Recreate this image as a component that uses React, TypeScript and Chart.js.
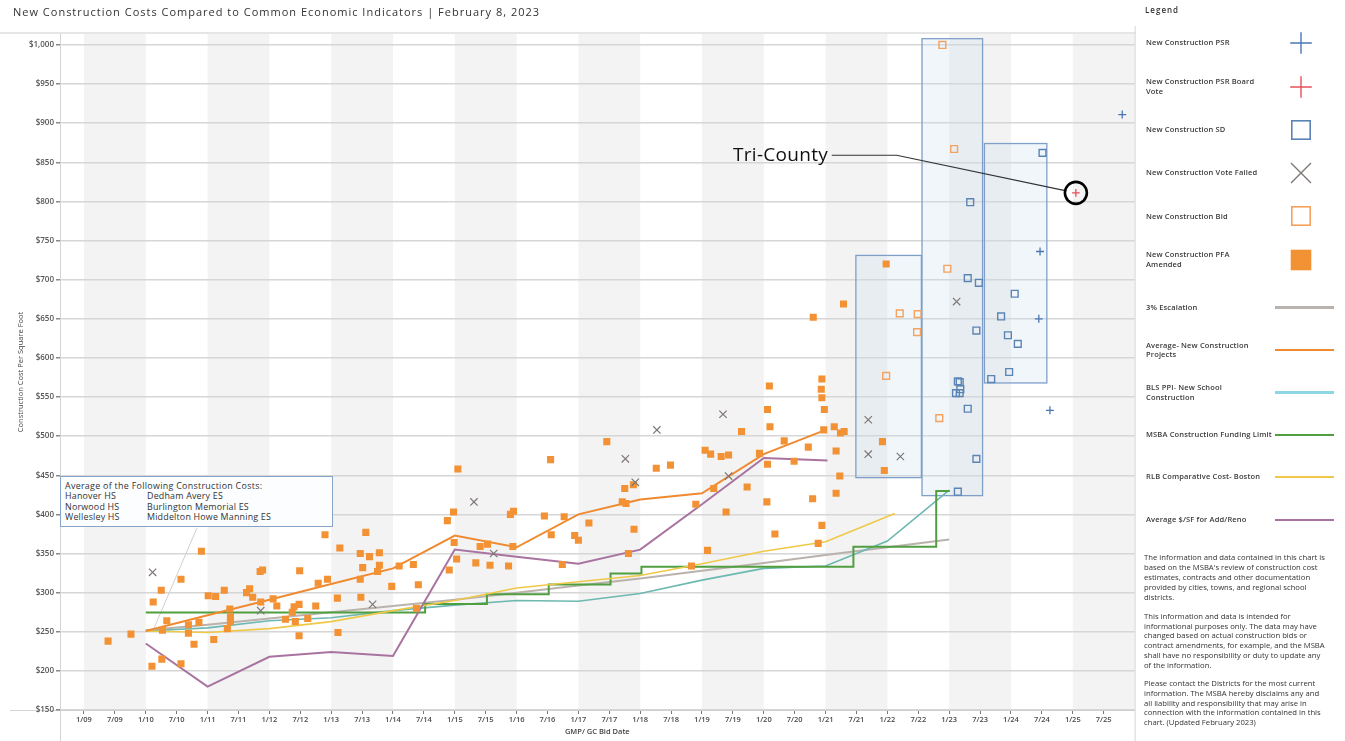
import React, { useEffect, useRef } from "react";
import { Chart, registerables } from "chart.js";

Chart.register(...registerables);

const FONT = "'Open Sans', 'Noto Sans', sans-serif";

// ---------- axis / tick data ----------
const xTickYears = [
  2009, 2009.5, 2010, 2010.5, 2011, 2011.5, 2012, 2012.5, 2013, 2013.5, 2014, 2014.5,
  2015, 2015.5, 2016, 2016.5, 2017, 2017.5, 2018, 2018.5, 2019, 2019.5, 2020, 2020.5,
  2021, 2021.5, 2022, 2022.5, 2023, 2023.5, 2024, 2024.5, 2025, 2025.5,
];
const xTickLabels = [
  "1/09", "7/09", "1/10", "7/10", "1/11", "7/11", "1/12", "7/12", "1/13", "7/13", "1/14", "7/14",
  "1/15", "7/15", "1/16", "7/16", "1/17", "7/17", "1/18", "7/18", "1/19", "7/19", "1/20", "7/20",
  "1/21", "7/21", "1/22", "7/22", "1/23", "7/23", "1/24", "7/24", "1/25", "7/25",
];
const yTickValues = [150, 200, 250, 300, 350, 400, 450, 500, 550, 600, 650, 700, 750, 800, 850, 900, 950, 1000];
const bandStartYears = [2009, 2011, 2013, 2015, 2017, 2019, 2021, 2023, 2025];

const X_MIN = 2008.612;
const X_MAX = 2026;
const Y_MIN = 150;
const Y_MAX = 1014;

type P = [number, number];

// ---------- scatter series ----------
const pfaAmended: P[] = [
  [2009.39, 238], [2009.76, 247], [2010.1, 206], [2010.26, 215], [2010.27, 252], [2010.12, 288],
  [2010.25, 303], [2010.34, 264], [2010.57, 317], [2010.57, 209], [2010.69, 259], [2010.69, 248],
  [2010.78, 234], [2010.9, 353], [2010.86, 262], [2011.01, 296], [2011.13, 295], [2011.1, 240],
  [2011.27, 303], [2011.36, 279], [2011.37, 269], [2011.37, 263], [2011.32, 254], [2011.63, 300],
  [2011.68, 305], [2011.73, 294], [2011.85, 327], [2011.89, 329], [2011.86, 288], [2012.06, 292],
  [2012.12, 283], [2012.26, 266], [2012.37, 275], [2012.4, 282], [2012.42, 263], [2012.48, 285],
  [2012.48, 245], [2012.49, 328], [2012.62, 267], [2012.75, 283], [2012.79, 312], [2012.9, 374],
  [2012.94, 317], [2013.1, 293], [2013.11, 249], [2013.14, 357], [2013.47, 350], [2013.47, 317],
  [2013.48, 294], [2013.51, 332], [2013.56, 377], [2013.62, 346], [2013.75, 327], [2013.78, 351],
  [2013.78, 335], [2013.98, 308], [2014.1, 334], [2014.33, 336], [2014.41, 310], [2014.38, 280],
  [2014.88, 392], [2014.91, 329], [2014.99, 364], [2015.03, 343], [2014.98, 403], [2015.05, 458],
  [2015.41, 359], [2015.53, 362], [2015.34, 338], [2015.57, 335], [2015.87, 334], [2015.9, 400],
  [2015.95, 404], [2015.94, 359], [2016.45, 398], [2016.55, 470], [2016.56, 374], [2016.77, 397],
  [2016.74, 336], [2016.94, 373], [2017.0, 367], [2017.17, 389], [2017.46, 493], [2017.75, 433],
  [2017.71, 416], [2017.77, 414], [2017.89, 438], [2017.9, 381], [2017.81, 350], [2018.26, 459],
  [2018.49, 463], [2018.83, 334], [2018.9, 413], [2019.05, 482], [2019.14, 477], [2019.31, 474],
  [2019.43, 476], [2019.09, 354], [2019.19, 433], [2019.39, 403], [2019.64, 506], [2019.73, 435],
  [2019.93, 478], [2020.06, 464], [2020.09, 564], [2020.06, 534], [2020.1, 512], [2020.05, 416],
  [2020.18, 375], [2020.33, 494], [2020.49, 468], [2020.72, 486], [2020.79, 420], [2020.8, 652],
  [2020.94, 573], [2020.93, 560], [2020.94, 549], [2020.98, 534], [2020.97, 508], [2020.94, 386],
  [2020.88, 363], [2021.14, 512], [2021.24, 504], [2021.3, 506], [2021.17, 481], [2021.23, 449],
  [2021.17, 427], [2021.29, 669], [2021.98, 720], [2021.92, 493], [2021.95, 456],
];
const constructionBid: P[] = [
  [2022.89, 1000], [2023.08, 867], [2022.97, 714], [2022.2, 657], [2022.49, 656], [2022.48, 633],
  [2021.98, 577], [2022.84, 523],
];
const constructionSD: P[] = [
  [2024.51, 862], [2023.34, 799], [2023.3, 702], [2023.48, 696], [2024.06, 682], [2023.84, 653],
  [2023.95, 629], [2024.11, 618], [2023.44, 635], [2023.97, 582], [2023.68, 573], [2023.14, 570],
  [2023.17, 569], [2023.18, 560], [2023.11, 555], [2023.17, 555], [2023.3, 535], [2023.44, 471],
  [2023.14, 429],
];
const constructionPSR: P[] = [[2025.8, 911], [2024.47, 736], [2024.45, 650], [2024.63, 533]];
const psrBoardVote: P[] = [[2025.05, 811]];
const voteFailed: P[] = [
  [2010.11, 326], [2011.86, 277], [2013.67, 285], [2015.31, 416], [2015.63, 350], [2017.76, 471],
  [2017.92, 441], [2018.27, 508], [2019.34, 528], [2019.43, 449], [2023.12, 672], [2021.69, 521],
  [2021.69, 477], [2022.21, 474],
];

// ---------- line series ----------
const escalation3: P[] = [
  [2010, 252], [2011, 259], [2012, 267], [2013, 275], [2014, 283], [2015, 291], [2016, 300],
  [2017, 309], [2018, 318], [2019, 328], [2020, 338], [2021, 348], [2022, 358], [2023, 368],
];
const avgNewConstruction: P[] = [
  [2010, 251], [2011, 271], [2012, 291], [2013, 311], [2014, 331], [2015, 373], [2016, 358],
  [2017, 400], [2018, 419], [2019, 427], [2020, 477], [2021, 508],
];
const blsPpi: P[] = [
  [2010, 251], [2011, 255], [2012, 264], [2013, 268], [2014, 277], [2015, 284], [2016, 290],
  [2017, 289], [2018, 299], [2019, 316], [2020, 331], [2021, 334], [2022, 366], [2023, 431],
];
const msbaLimit: P[] = [
  [2010, 274.5], [2014.52, 285.5], [2015.52, 298], [2016.52, 310.5], [2017.52, 324.5],
  [2018.02, 333], [2021.45, 358.5], [2022.79, 430], [2023.01, 430],
];
const rlbBoston: P[] = [
  [2010, 251], [2011, 249], [2012, 254], [2013, 263], [2014, 277], [2015, 290], [2016, 306],
  [2017, 314], [2018, 322], [2019, 337], [2020, 353], [2021, 365], [2022.12, 401],
];
const avgAddReno: P[] = [
  [2010, 235], [2011, 180], [2012, 218], [2013, 224], [2014, 219], [2015, 355], [2016, 346],
  [2017, 337], [2018, 355], [2019, 413], [2020, 472], [2021.03, 469],
];

// highlight ranges [x1, x2, y1, y2] in data units
const highlightRanges: number[][] = [
  [2021.49, 2022.55, 447, 731],
  [2022.56, 2023.54, 424, 1008],
  [2023.57, 2024.58, 568, 874],
];
// Tri-County leader (data units)
const triCountyLeader: P[] = [[2021.1, 859], [2022.15, 859]];
const triCountyTarget: P = [2025.05, 811];
// callout from the averages box
const averagesCallout: P[] = [[2010.83, 383], [2010.12, 252]];

const toXY = (arr: P[]) => arr.map(([x, y]) => ({ x, y }));

const annotationPlugin = {
  id: "annotations",
  beforeDraw(chart: any) {
    const { ctx, chartArea, scales } = chart;
    const { top, bottom, left, right } = chartArea;
    const xs = scales.x;
    ctx.save();
    ctx.fillStyle = "#f3f3f3";
    for (const s of bandStartYears) {
      const x1 = Math.max(left, xs.getPixelForValue(s));
      const x2 = Math.min(right, xs.getPixelForValue(s + 1));
      if (x2 > x1) ctx.fillRect(x1, top, x2 - x1, bottom - top);
    }
    ctx.strokeStyle = "#dedede";
    ctx.lineWidth = 1.5;
    ctx.beginPath();
    ctx.moveTo(0, top - 1);
    ctx.lineTo(right + 1, top - 1);
    ctx.stroke();
    ctx.strokeStyle = "#d4d4d4";
    ctx.lineWidth = 1;
    ctx.beginPath();
    ctx.moveTo(left + 0.5, bottom);
    ctx.lineTo(left + 0.5, chart.height);
    ctx.moveTo(10, bottom + 0.5);
    ctx.lineTo(left, bottom + 0.5);
    ctx.moveTo(right + 0.5, top - 8);
    ctx.lineTo(right + 0.5, chart.height);
    ctx.stroke();
    ctx.restore();
  },
  beforeDatasetsDraw(chart: any) {
    const { ctx, scales } = chart;
    const xs = scales.x;
    const ys = scales.y;
    ctx.save();
    for (const [a, b, c, d] of highlightRanges) {
      const x1 = xs.getPixelForValue(a);
      const x2 = xs.getPixelForValue(b);
      const y1 = ys.getPixelForValue(d);
      const y2 = ys.getPixelForValue(c);
      ctx.fillStyle = "rgba(205,222,238,0.28)";
      ctx.fillRect(x1, y1, x2 - x1, y2 - y1);
      ctx.strokeStyle = "#7f9fc8";
      ctx.lineWidth = 1.3;
      ctx.strokeRect(x1, y1, x2 - x1, y2 - y1);
    }
    ctx.strokeStyle = "#cfcfcf";
    ctx.lineWidth = 1;
    ctx.beginPath();
    averagesCallout.forEach(([x, y], i) => {
      const px = xs.getPixelForValue(x);
      const py = ys.getPixelForValue(y);
      if (i === 0) ctx.moveTo(px, py);
      else ctx.lineTo(px, py);
    });
    ctx.stroke();
    ctx.restore();
  },
  afterDatasetsDraw(chart: any) {
    const { ctx, scales } = chart;
    const xs = scales.x;
    const ys = scales.y;
    const cx = xs.getPixelForValue(triCountyTarget[0]);
    const cy = ys.getPixelForValue(triCountyTarget[1]);
    const r = 11;
    const pts = triCountyLeader.map(([x, y]) => [xs.getPixelForValue(x), ys.getPixelForValue(y)]);
    const last = pts[pts.length - 1];
    const dx = cx - last[0];
    const dy = cy - last[1];
    const len = Math.hypot(dx, dy);
    ctx.save();
    ctx.strokeStyle = "#333";
    ctx.lineWidth = 1.2;
    ctx.beginPath();
    ctx.moveTo(pts[0][0], pts[0][1]);
    for (let i = 1; i < pts.length; i++) ctx.lineTo(pts[i][0], pts[i][1]);
    ctx.lineTo(cx - (dx / len) * r, cy - (dy / len) * r);
    ctx.stroke();
    ctx.strokeStyle = "#000";
    ctx.lineWidth = 2.6;
    ctx.beginPath();
    ctx.arc(cx, cy, r, 0, Math.PI * 2);
    ctx.stroke();
    ctx.restore();
  },
};

const scatterDs = (label: string, data: P[], style: string, radius: number, border: string, fill: string, bw: number) => ({
  label,
  data: toXY(data),
  showLine: false,
  pointStyle: style,
  pointRadius: radius,
  pointHoverRadius: radius,
  pointBorderColor: border,
  pointBackgroundColor: fill,
  pointBorderWidth: bw,
  borderColor: border,
  backgroundColor: fill,
});

const lineDs = (label: string, data: P[], color: string, width: number, extra: any = {}) => ({
  label,
  data: toXY(data),
  showLine: true,
  pointRadius: 0,
  pointHoverRadius: 0,
  borderColor: color,
  backgroundColor: color,
  borderWidth: width,
  fill: false,
  tension: 0,
  ...extra,
});

const markerLegend = [
  { lines: ["New Construction PSR"], y: 43.3, icon: "plus", color: "#4a78b4" },
  { lines: ["New Construction PSR Board", "Vote"], y: 86.5, icon: "plus", color: "#e8505b" },
  { lines: ["New Construction SD"], y: 130.2, icon: "square", color: "#5b84b6" },
  { lines: ["New Construction Vote Failed"], y: 173.2, icon: "x", color: "#7d7775" },
  { lines: ["New Construction Bid"], y: 216.4, icon: "square", color: "#f4a25e" },
  { lines: ["New Construction PFA", "Amended"], y: 259.5, icon: "filled", color: "#f39234" },
];
const lineLegend = [
  { lines: ["3% Escalation"], y: 307.5, color: "#bab2ad" },
  { lines: ["Average- New Construction", "Projects"], y: 350.2, color: "#f08a30" },
  { lines: ["BLS PPI- New School", "Construction"], y: 392.5, color: "#8dd6e5" },
  { lines: ["MSBA Construction Funding Limit"], y: 435.3, color: "#4f9e40" },
  { lines: ["RLB Comparative Cost- Boston"], y: 477.2, color: "#f0c848" },
  { lines: ["Average $/SF for Add/Reno"], y: 520, color: "#a8739f" },
];
const disclaimer: { y: number; lines: string[] }[] = [
  {
    y: 558.3,
    lines: [
      "The information and data contained in this chart is",
      "based on the MSBA's review of construction cost",
      "estimates, contracts and other documentation",
      "provided by cities, towns, and regional school",
      "districts.",
    ],
  },
  {
    y: 616.7,
    lines: [
      "This information and data is intended for",
      "informational purposes only. The data may have",
      "changed based on actual construction bids or",
      "contract amendments, for example, and the MSBA",
      "shall have no responsibility or duty to update any",
      "of the information.",
    ],
  },
  {
    y: 684,
    lines: [
      "Please contact the Districts for the most current",
      "information. The MSBA hereby disclaims any and",
      "all liability and responsibility that may arise in",
      "connection with the information contained in this",
      "chart. (Updated February 2023)",
    ],
  },
];
const averagesTitle = "Average of the Following Construction Costs:";
const averagesCol1 = ["Hanover HS", "Norwood HS", "Wellesley HS"];
const averagesCol2 = ["Dedham Avery ES", "Burlington Memorial ES", "Middelton Howe Manning ES"];

function Icon({ kind, color }: { kind: string; color: string }) {
  const common = { width: 24, height: 24, style: { position: "absolute" as const, left: 0, top: 0 } };
  if (kind === "plus")
    return (
      <svg {...common}>
        <path d="M12 1.2 V22.8 M1.2 12 H22.8" stroke={color} strokeWidth={1.4} fill="none" />
      </svg>
    );
  if (kind === "x")
    return (
      <svg {...common}>
        <path d="M2 2 L22 22 M22 2 L2 22" stroke={color} strokeWidth={1.4} fill="none" />
      </svg>
    );
  if (kind === "square")
    return (
      <svg {...common}>
        <rect x={2.8} y={2.8} width={18.4} height={18.4} stroke={color} strokeWidth={1.6} fill="#fff" />
      </svg>
    );
  return (
    <svg {...common}>
      <rect x={1.7} y={1.7} width={20.6} height={20.6} fill={color} />
    </svg>
  );
}

export default function App() {
  const ref = useRef<HTMLCanvasElement>(null);

  useEffect(() => {
    if (!ref.current) return;
    const tickFont = { family: FONT, size: 8, weight: "600" };
    const chart = new Chart(ref.current, {
      type: "scatter",
      data: {
        datasets: [
          scatterDs("New Construction PSR Board Vote", psrBoardVote, "cross", 3.8, "#e5505a", "rgba(0,0,0,0)", 1.3),
          scatterDs("New Construction PSR", constructionPSR, "cross", 4, "#4a78b4", "rgba(0,0,0,0)", 1.3),
          scatterDs("New Construction SD", constructionSD, "rect", 4.8, "#5b84b6", "rgba(255,255,255,0)", 1.4),
          scatterDs("New Construction Vote Failed", voteFailed, "crossRot", 5.2, "#7d7775", "rgba(0,0,0,0)", 1.2),
          scatterDs("New Construction Bid", constructionBid, "rect", 4.8, "#f4a25e", "rgba(255,255,255,0)", 1.4),
          scatterDs("New Construction PFA Amended", pfaAmended, "rect", 5, "#f39234", "#f39234", 0),
          lineDs("Average- New Construction Projects", avgNewConstruction, "#ef8a30", 2),
          lineDs("Average $/SF for Add/Reno", avgAddReno, "#a8739f", 2),
          lineDs("RLB Comparative Cost- Boston", rlbBoston, "#f0c848", 1.6),
          lineDs("MSBA Construction Funding Limit", msbaLimit, "#4f9e40", 2, { stepped: "before" }),
          lineDs("BLS PPI- New School Construction", blsPpi, "#6db8b0", 1.6),
          lineDs("3% Escalation", escalation3, "#bab2ad", 2),
        ] as any,
      },
      options: {
        responsive: false,
        maintainAspectRatio: false,
        animation: false,
        events: [],
        layout: { autoPadding: false, padding: { left: 0, top: 34, right: 210.4, bottom: 0 } } as any,
        plugins: {
          legend: { display: false },
          tooltip: { enabled: false },
          title: { display: false },
        },
        scales: {
          x: {
            type: "linear",
            min: X_MIN,
            max: X_MAX,
            afterBuildTicks: (s: any) => {
              s.ticks = xTickYears.map((v) => ({ value: v }));
            },
            afterFit: (s: any) => {
              s.height = 31;
            },
            ticks: {
              autoSkip: false,
              maxRotation: 0,
              minRotation: 0,
              padding: 1,
              color: "#4a4a4a",
              font: { family: FONT, size: 7.5, weight: "600" },
              callback: (_v: any, i: number) => xTickLabels[i] ?? "",
            },
            grid: { drawOnChartArea: false, drawTicks: true, tickLength: 4, tickColor: "#777", lineWidth: 1 },
            border: { display: true, color: "#cfcfcf", width: 1 },
            title: {
              display: true,
              text: "GMP/ GC Bid Date",
              color: "#444",
              font: { family: FONT, size: 7.5, weight: "600" },
              padding: { top: 0, bottom: 4.5 },
            },
          },
          y: {
            type: "linear",
            min: Y_MIN,
            max: Y_MAX,
            afterBuildTicks: (s: any) => {
              s.ticks = yTickValues.map((v) => ({ value: v }));
            },
            afterFit: (s: any) => {
              s.width = 60;
            },
            ticks: {
              padding: 2,
              color: "#555",
              font: tickFont,
              callback: (v: any) => "$" + Number(v).toLocaleString("en-US"),
            },
            grid: { color: "#d6d6d6", lineWidth: 1.5, tickLength: 4, tickColor: "#888" },
            border: { display: true, color: "#d4d4d4", width: 1 },
            title: {
              display: true,
              text: "Construction Cost Per Square Foot",
              color: "#444",
              font: { family: FONT, size: 7.5 },
              padding: { top: 16, bottom: 0 },
            },
          },
        },
      } as any,
      plugins: [annotationPlugin as any],
    });
    return () => chart.destroy();
  }, []);

  const abs = (extra: React.CSSProperties): React.CSSProperties => ({ position: "absolute", whiteSpace: "nowrap", ...extra });
  const LH = 9.7;

  return (
    <div
      style={{
        position: "absolute",
        left: 0,
        top: 0,
        width: 1345,
        height: 741,
        overflow: "hidden",
        background: "#fff",
        fontFamily: FONT,
        color: "#333",
      }}
    >
      <canvas ref={ref} width={1345} height={741} style={{ position: "absolute", left: 0, top: 0, width: 1345, height: 741 }} />

      <div style={abs({ left: 13, top: 5, fontSize: 11, lineHeight: "14px", letterSpacing: "1px", color: "#333" })}>
        New Construction Costs Compared to Common Economic Indicators | February 8, 2023
      </div>

      <div style={abs({ left: 733, top: 142, fontSize: 19, lineHeight: "24px", color: "#111", letterSpacing: "0.3px" })}>
        Tri-County
      </div>

      <div
        style={abs({
          left: 60,
          top: 476,
          width: 273,
          height: 51,
          border: "1px solid #86a3c8",
          background: "#fcfdfe",
          boxSizing: "border-box",
        })}
      />
      <div style={abs({ left: 65, top: 485.5 - 5.5, fontSize: 8.9, lineHeight: "11px", letterSpacing: "0.3px", color: "#333" })}>
        {averagesTitle}
      </div>
      {averagesCol1.map((t, i) => (
        <div key={"a1" + i} style={abs({ left: 65, top: 495.8 + i * 10.3 - 5.5, fontSize: 8.9, lineHeight: "11px", letterSpacing: "0.2px" })}>
          {t}
        </div>
      ))}
      {averagesCol2.map((t, i) => (
        <div key={"a2" + i} style={abs({ left: 147, top: 495.8 + i * 10.3 - 5.5, fontSize: 8.9, lineHeight: "11px", letterSpacing: "0.2px" })}>
          {t}
        </div>
      ))}

      <div style={abs({ left: 1145, top: 4, fontSize: 8, lineHeight: "12px", fontWeight: 600, letterSpacing: "1px", color: "#333" })}>
        Legend
      </div>

      {markerLegend.map((m, i) => (
        <React.Fragment key={"m" + i}>
          <div
            style={abs({
              left: 1146,
              top: m.y - (m.lines.length * LH) / 2,
              fontSize: 7.5,
              lineHeight: LH + "px",
              fontWeight: 600,
              letterSpacing: "0.15px",
              color: "#3a3a3a",
            })}
          >
            {m.lines.map((l, j) => (
              <div key={j}>{l}</div>
            ))}
          </div>
          <div style={abs({ left: 1288.7, top: m.y - 12, width: 24, height: 24 })}>
            <Icon kind={m.icon} color={m.color} />
          </div>
        </React.Fragment>
      ))}

      {lineLegend.map((m, i) => (
        <React.Fragment key={"l" + i}>
          <div
            style={abs({
              left: 1146,
              top: m.y - (m.lines.length * LH) / 2,
              fontSize: 7.5,
              lineHeight: LH + "px",
              fontWeight: 600,
              letterSpacing: "0.15px",
              color: "#3a3a3a",
            })}
          >
            {m.lines.map((l, j) => (
              <div key={j}>{l}</div>
            ))}
          </div>
          <div style={abs({ left: 1275, top: m.y - 1.2, width: 59, height: 2.4, background: m.color })} />
        </React.Fragment>
      ))}

      {disclaimer.map((p, i) => (
        <div
          key={"d" + i}
          style={abs({ left: 1144, top: p.y - 4.9, fontSize: 7.7, lineHeight: "9.8px", color: "#333" })}
        >
          {p.lines.map((l, j) => (
            <div key={j}>{l}</div>
          ))}
        </div>
      ))}
    </div>
  );
}
